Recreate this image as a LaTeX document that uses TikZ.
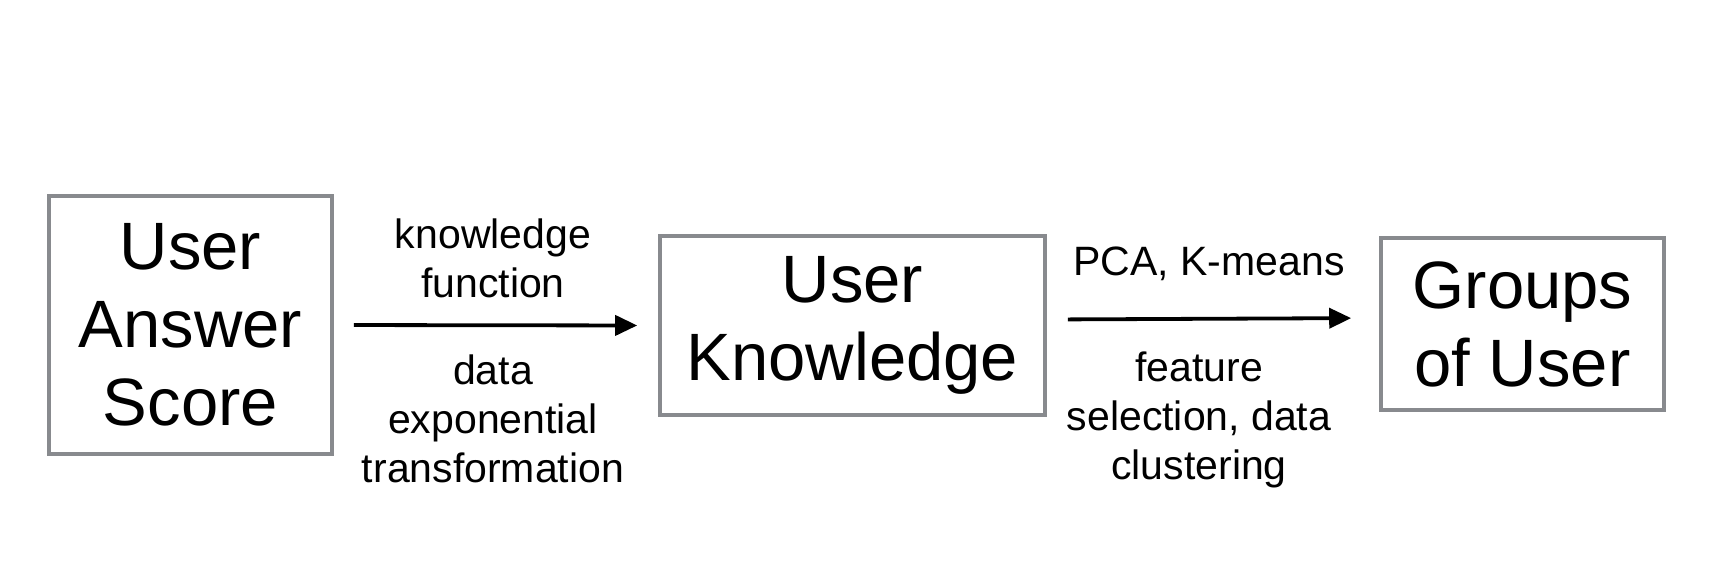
\documentclass[tikz,border=0pt]{standalone}
\usepackage{fontspec}
\setmainfont{Liberation Sans}
\usetikzlibrary{arrows.meta}
\definecolor{boxgray}{RGB}{136,138,142}
\tikzset{
  box/.style={draw=boxgray, line width=1.8pt, rectangle, inner sep=0pt, align=center,
              font=\fontsize{33.5}{39}\selectfont},
  lbl/.style={align=center, inner sep=0pt, font=\fontsize{20.5}{24.5}\selectfont},
  flow/.style={line width=1.9pt, -{Triangle[length=11pt,width=10pt]}}
}
\begin{document}
\begin{tikzpicture}[x=0.5pt,y=-0.5pt]
\useasboundingbox (0,0) rectangle (1718,568);
\node[box, minimum width=141.5pt, minimum height=129pt] (b1) at (190.5,325) {User\\Answer\\Score};
\node[box, minimum width=192.5pt, minimum height=89.5pt] (b2) at (852.5,325.5) {User\\Knowledge};
\node[box, minimum width=141.5pt, minimum height=86pt] (b3) at (1522.5,324) {Groups\\of User};
\draw[flow, shorten <=10pt, shorten >=10.5pt] (b1.east) -- (b2.west);
\draw[flow, shorten <=10.5pt, shorten >=14pt] ([yshift=3pt]b2.east) -- ([yshift=3pt]b3.west);
\node[lbl] (l1) at (493,258) {knowledge\\function};
\node[lbl] (l2) at (493,419) {data\\exponential\\transformation};
\node[lbl] (l3) at (1209,264) {PCA, K-means};
\node[lbl] (l4) at (1199,420) {feature\\selection, data\\clustering};
\end{tikzpicture}
\end{document}
